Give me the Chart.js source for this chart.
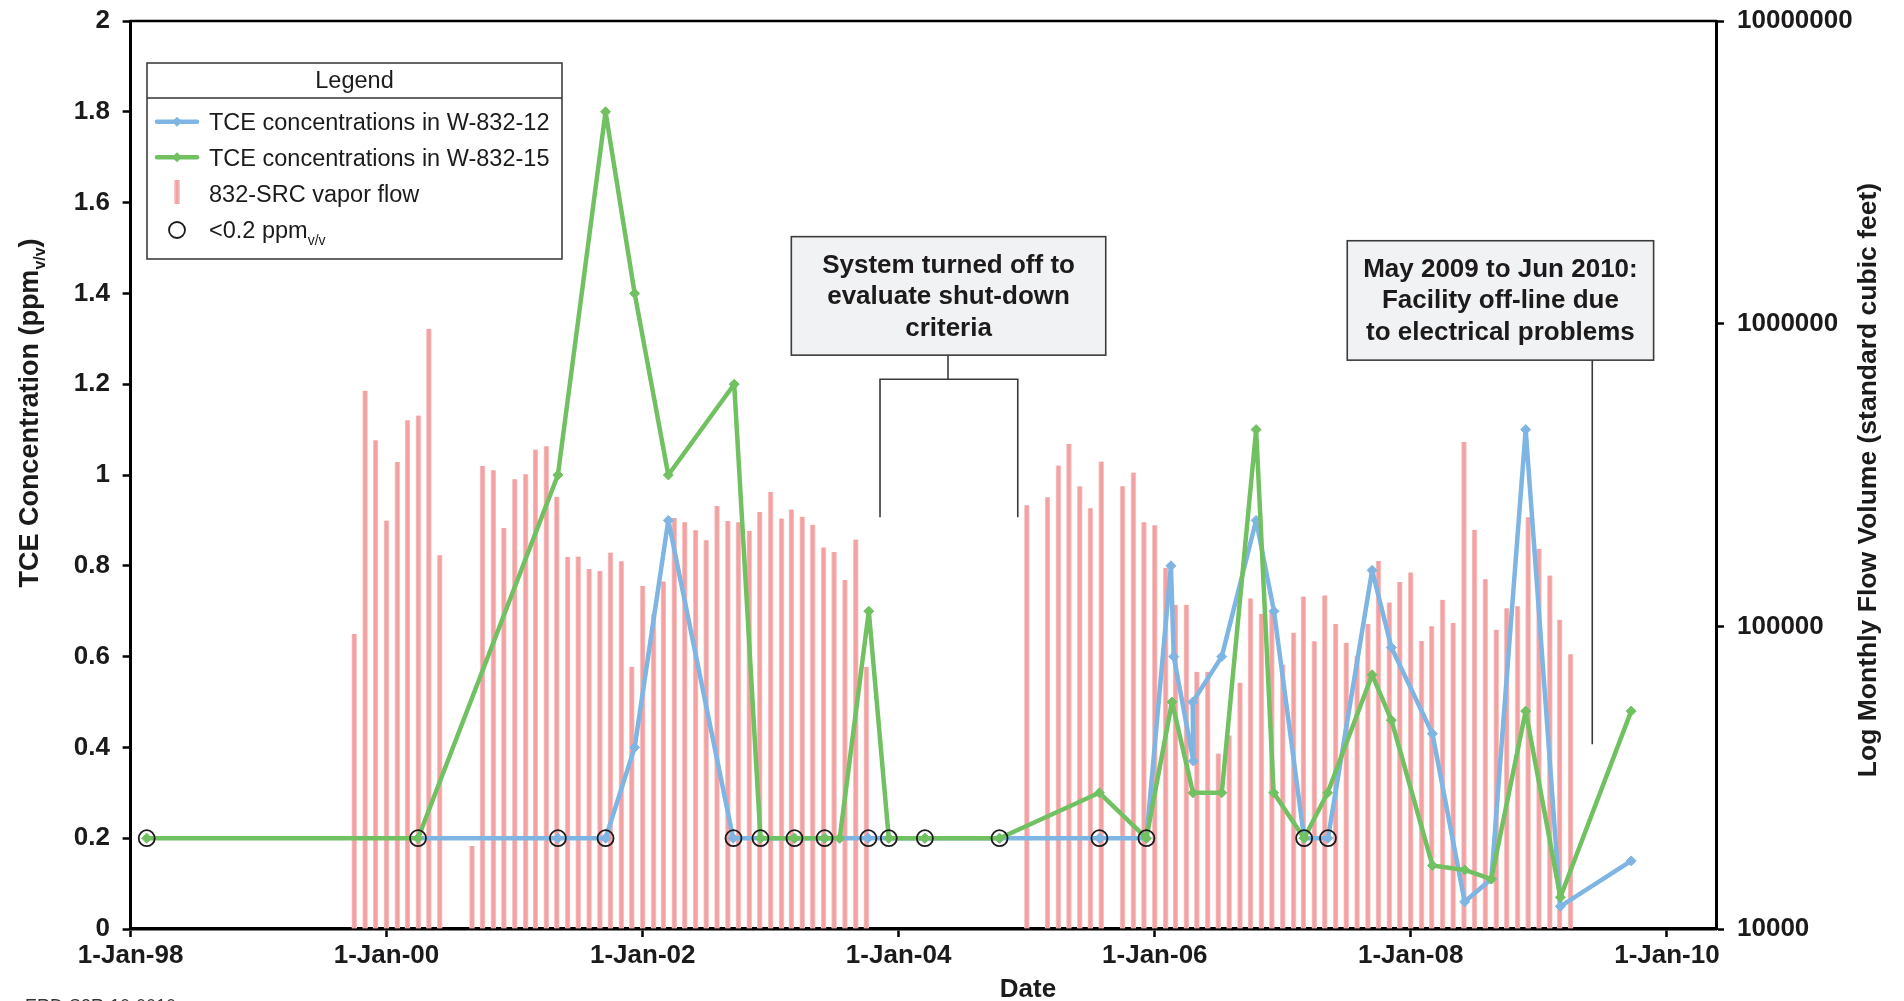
<!DOCTYPE html>
<html>
<head>
<meta charset="utf-8">
<script src="https://cdn.jsdelivr.net/npm/chart.js@4.4.1/dist/chart.umd.min.js"></script>
<style>
html,body{margin:0;padding:0;background:#fff;overflow:hidden}
#wrap{position:relative;width:1904px;height:1001px}
</style>
</head>
<body>
<div id="wrap"><canvas id="c"></canvas></div>
<script>
// ---------- DATA ----------
const tickYears = [1998, 2000, 2002, 2004, 2006, 2008, 2010];
const flowTicks = [10000, 100000, 1000000, 10000000];

const w12Dates = ['2000-03-31','2001-05-04','2001-09-17','2001-12-09','2002-03-15','2002-09-16','2002-12-03','2003-03-10','2003-06-04','2003-07-17','2003-10-06','2003-12-04','2004-03-16','2004-10-15','2005-07-27','2005-12-08','2006-02-16','2006-02-24','2006-04-21','2006-04-19','2006-07-11','2006-10-17','2006-12-07','2007-03-03','2007-05-10','2007-09-13','2007-11-07','2008-03-03','2008-06-03','2008-08-18','2008-11-24','2009-03-03','2009-09-21'];
const w12Values = [0.2,0.2,0.2,0.4,0.9,0.2,0.2,0.2,0.2,0.2,0.2,0.2,0.2,0.2,0.2,0.2,0.8,0.6,0.37,0.5,0.6,0.9,0.7,0.2,0.2,0.79,0.62,0.43,0.06,0.11,1.1,0.05,0.15];

const w15Dates = ['1998-02-16','2000-03-31','2001-05-04','2001-09-17','2001-12-09','2002-03-15','2002-09-19','2002-12-03','2003-03-10','2003-06-04','2003-07-17','2003-10-08','2003-12-04','2004-03-16','2004-10-15','2005-07-27','2005-12-08','2006-02-19','2006-04-20','2006-07-11','2006-10-17','2006-12-06','2007-03-03','2007-05-09','2007-09-13','2007-11-07','2008-03-03','2008-06-03','2008-08-18','2008-11-24','2009-03-03','2009-09-21'];
const w15Values = [0.2,0.2,1.0,1.8,1.4,1.0,1.2,0.2,0.2,0.2,0.2,0.7,0.2,0.2,0.2,0.3,0.2,0.5,0.3,0.3,1.1,0.3,0.2,0.3,0.56,0.46,0.14,0.13,0.11,0.48,0.07,0.48];

// samples below detection (<0.2 ppmv/v), plotted at 0.2
const ndDates = ['1998-02-16','2000-03-31','2001-05-04','2001-09-17','2002-09-17','2002-12-03','2003-03-10','2003-06-04','2003-10-07','2003-12-04','2004-03-16','2004-10-15','2005-07-27','2005-12-08','2007-03-03','2007-05-10'];
const ndValues = [0.2,0.2,0.2,0.2,0.2,0.2,0.2,0.2,0.2,0.2,0.2,0.2,0.2,0.2,0.2,0.2];

// monthly 832-SRC vapor flow (scf), Jan..Dec
const flowYears = [1999,2000,2001,2002,2003,2004,2005,2006,2007,2008,2009];
const flow1999 = [null,null,null,null,null,null,null,null,null,94300,600600,412000];
const flow2000 = [223700,349200,480000,496800,962000,171700,null,null,18800,338500,328100,211400];
const flow2001 = [306400,318000,383600,393300,268100,169400,170000,154700,152400,175300,164200,73500];
const flow2002 = [135800,109900,140700,227900,220600,207700,192500,250000,222900,220600,207000,238800];
const flow2003 = [278300,227200,243400,230300,216400,182300,176000,142200,193600,73550,null,null];
const flow2004 = [null,null,null,null,null,null,null,null,null,null,null,null];
const flow2005 = [251200,null,267000,339800,400900,290300,245400,350500,null,290300,322400,220900];
const flow2006 = [215800,155900,117800,117800,70800,70800,38000,43600,65100,123700,110000,112000];
const flow2007 = [74800,95300,125400,89300,126500,101800,88300,80000,101700,164300,119900,140000];
const flow2008 = [150700,89500,100000,122400,102500,407300,208500,143000,97500,114700,116500,229300];
const flow2009 = [180600,147200,105100,80900,null,null,null,null,null,null,null,null];
const flowByYear = [flow1999,flow2000,flow2001,flow2002,flow2003,flow2004,flow2005,flow2006,flow2007,flow2008,flow2009];

// ---------- helpers ----------
const day = s => { const p = s.split('-').map(Number); return Date.UTC(p[0], p[1]-1, p[2]||1) / 864e5; };
const toPts = (ds, vs) => ds.map((d, i) => ({x: day(d), y: vs[i]}));
const flowPts = [];
flowByYear.forEach((arr, yi) => arr.forEach((v, m) => {
  if (v != null) flowPts.push({x: Date.UTC(flowYears[yi], m, 1) / 864e5, y: v});
}));
const MONTHS = ['Jan','Feb','Mar','Apr','May','Jun','Jul','Aug','Sep','Oct','Nov','Dec'];

const BLUE = '#7EB5E3', GREEN = '#71C162', PINK = '#F2A2A2', PINK_EDGE = '#F8C6C6', INK = '#1c1a1b';
const FONT = '"Liberation Sans", Arial, Helvetica, sans-serif';

function richWidth(ctx, parts) {
  let w = 0;
  parts.forEach(p => { ctx.font = p.f; w += ctx.measureText(p.t).width; });
  return w;
}
function drawRich(ctx, parts, x, y, align) {
  const w = richWidth(ctx, parts);
  let cx = align === 'center' ? x - w / 2 : x;
  ctx.textAlign = 'left';
  parts.forEach(p => {
    ctx.font = p.f;
    ctx.fillText(p.t, cx, y + (p.dy || 0));
    cx += ctx.measureText(p.t).width;
  });
}

const annotations = [
  {lines: ['System turned off to', 'evaluate shut-down', 'criteria'],
   x0: '2003-03-01', x1: '2005-08-14', yTop: 1.525, yBot: 1.264,
   stem: '2004-05-21', bracket: ['2003-11-09', '2004-12-06'], bracketY: 1.211, legY: 0.907},
  {lines: ['May 2009 to Jun 2010:', 'Facility off-line due', 'to electrical problems'],
   x0: '2007-07-04', x1: '2009-11-24', yTop: 1.516, yBot: 1.253,
   stem: '2009-06-02', stemEnd: 0.407}
];

const decor = {
  id: 'decor',
  afterDraw(chart) {
    const {ctx, chartArea: a} = chart;
    const x = chart.scales.x, y = chart.scales.y;
    ctx.save();
    // top frame line
    ctx.strokeStyle = '#000'; ctx.lineWidth = 2.5;
    ctx.beginPath(); ctx.moveTo(a.left - 1, a.top); ctx.lineTo(a.right + 1, a.top); ctx.stroke();

    // annotation boxes
    annotations.forEach(an => {
      const L = x.getPixelForValue(day(an.x0)), R = x.getPixelForValue(day(an.x1));
      const T = y.getPixelForValue(an.yTop), B = y.getPixelForValue(an.yBot);
      ctx.strokeStyle = '#3b3b3b'; ctx.lineWidth = 1.6;
      const sx = x.getPixelForValue(day(an.stem));
      ctx.beginPath();
      if (an.bracket) {
        const by = y.getPixelForValue(an.bracketY), ly = y.getPixelForValue(an.legY);
        const bx0 = x.getPixelForValue(day(an.bracket[0])), bx1 = x.getPixelForValue(day(an.bracket[1]));
        ctx.moveTo(sx, B); ctx.lineTo(sx, by);
        ctx.moveTo(bx0, ly); ctx.lineTo(bx0, by); ctx.lineTo(bx1, by); ctx.lineTo(bx1, ly);
      } else {
        ctx.moveTo(sx, B); ctx.lineTo(sx, y.getPixelForValue(an.stemEnd));
      }
      ctx.stroke();
      ctx.fillStyle = '#F1F2F3';
      ctx.fillRect(L, T, R - L, B - T);
      ctx.strokeRect(L, T, R - L, B - T);
      ctx.fillStyle = INK; ctx.font = 'bold 26px ' + FONT; ctx.textAlign = 'center'; ctx.textBaseline = 'alphabetic';
      an.lines.forEach((t, i) => ctx.fillText(t, (L + R) / 2, T + 36 + i * 31.7));
    });

    // legend box
    const lx = 147, lt = 63, lw = 415, lh = 196;
    ctx.fillStyle = '#fff'; ctx.fillRect(lx, lt, lw, lh);
    ctx.strokeStyle = '#333'; ctx.lineWidth = 1.5;
    ctx.strokeRect(lx, lt, lw, lh);
    ctx.beginPath(); ctx.moveTo(lx, 98); ctx.lineTo(lx + lw, 98); ctx.stroke();
    ctx.fillStyle = INK; ctx.textBaseline = 'alphabetic'; ctx.textAlign = 'center';
    ctx.font = '23.5px ' + FONT;
    ctx.fillText('Legend', lx + lw / 2, 88.3);
    const sx0 = 157, sx1 = 197, smid = 177, tx = 209;
    const rows = [130, 165.7, 202, 237.5];
    [[BLUE, 121.7], [GREEN, 157.3]].forEach(([c, yy]) => {
      ctx.strokeStyle = c; ctx.lineWidth = 4.5; ctx.lineCap = 'round';
      ctx.beginPath(); ctx.moveTo(sx0, yy); ctx.lineTo(sx1, yy); ctx.stroke();
      ctx.fillStyle = c; ctx.beginPath();
      ctx.moveTo(smid - 5, yy); ctx.lineTo(smid, yy - 5); ctx.lineTo(smid + 5, yy); ctx.lineTo(smid, yy + 5); ctx.closePath(); ctx.fill();
    });
    ctx.fillStyle = PINK_EDGE; ctx.fillRect(smid - 3, 180, 6, 24);
    ctx.fillStyle = PINK; ctx.fillRect(smid - 1.5, 180, 3, 24);
    ctx.strokeStyle = INK; ctx.lineWidth = 1.8;
    ctx.beginPath(); ctx.arc(smid, 230, 8, 0, Math.PI * 2); ctx.stroke();
    ctx.fillStyle = INK; ctx.textAlign = 'left'; ctx.font = '23.5px ' + FONT;
    ctx.fillText('TCE concentrations in W-832-12', tx, rows[0]);
    ctx.fillText('TCE concentrations in W-832-15', tx, rows[1]);
    ctx.fillText('832-SRC vapor flow', tx, rows[2]);
    drawRich(ctx, [{t: '<0.2 ppm', f: '23.5px ' + FONT}, {t: 'v/v', f: '14px ' + FONT, dy: 7.5}], tx, rows[3], 'left');

    // axis titles
    ctx.fillStyle = INK; ctx.textBaseline = 'alphabetic';
    ctx.save();
    ctx.translate(38, 413); ctx.rotate(-Math.PI / 2);
    drawRich(ctx, [{t: 'TCE Concentration (ppm', f: 'bold 27px ' + FONT}, {t: 'v/v', f: 'bold 16px ' + FONT, dy: 7}, {t: ')', f: 'bold 27px ' + FONT}], 0, 0, 'center');
    ctx.restore();
    ctx.save();
    ctx.translate(1876, 480); ctx.rotate(-Math.PI / 2);
    ctx.font = 'bold 26.5px ' + FONT; ctx.textAlign = 'center';
    ctx.fillText('Log Monthly Flow Volume (standard cubic feet)', 0, 0);
    ctx.restore();
    ctx.font = 'bold 26px ' + FONT; ctx.textAlign = 'center';
    ctx.fillText('Date', 1028, 997);
    ctx.font = '18px ' + FONT; ctx.textAlign = 'left'; ctx.fillStyle = '#333';
    ctx.fillText('ERD-S3R-10-0010', 25, 1012);
    ctx.restore();
  }
};

const tickFont = {family: FONT, size: 26, weight: 'bold'};
const noPad = s => { s.paddingTop = 0; s.paddingBottom = 0; s.paddingLeft = 0; s.paddingRight = 0; };

new Chart(document.getElementById('c'), {
  type: 'line',
  data: {
    datasets: [
      {type: 'line', label: '<0.2 ppmv/v', data: toPts(ndDates, ndValues), yAxisID: 'y', showLine: false,
       pointStyle: 'circle', pointRadius: 8, pointBorderWidth: 1.8, pointBorderColor: INK,
       pointBackgroundColor: 'rgba(0,0,0,0)', borderColor: INK, order: 0},
      {type: 'line', label: 'TCE concentrations in W-832-15', data: toPts(w15Dates, w15Values), yAxisID: 'y',
       borderColor: GREEN, backgroundColor: GREEN, borderWidth: 4.5, borderJoinStyle: 'round',
       pointStyle: 'rectRot', pointRadius: 5, pointBorderWidth: 1, pointBackgroundColor: GREEN, pointBorderColor: GREEN, order: 1},
      {type: 'line', label: 'TCE concentrations in W-832-12', data: toPts(w12Dates, w12Values), yAxisID: 'y',
       borderColor: BLUE, backgroundColor: BLUE, borderWidth: 4.5, borderJoinStyle: 'round',
       pointStyle: 'rectRot', pointRadius: 5, pointBorderWidth: 1, pointBackgroundColor: BLUE, pointBorderColor: BLUE, order: 2},
      {type: 'bar', label: '832-SRC vapor flow', data: flowPts, yAxisID: 'y2', base: 10000,
       backgroundColor: PINK, borderColor: PINK_EDGE, borderWidth: {left: 1, right: 1, top: 0, bottom: 0},
       barThickness: 5, order: 10}
    ]
  },
  options: {
    responsive: true, maintainAspectRatio: false, animation: false,
    layout: {padding: {top: 21, left: 0, right: 0, bottom: 0}},
    plugins: {legend: {display: false}, tooltip: {enabled: false}},
    scales: {
      x: {
        type: 'linear', position: 'bottom', offset: false,
        min: day('1998-01-01'), max: day('2010-05-21'),
        afterBuildTicks: s => { s.ticks = tickYears.map(yr => ({value: Date.UTC(yr, 0, 1) / 864e5})); },
        afterFit: s => { s.height = 72; noPad(s); },
        grid: {offset: false, drawOnChartArea: false, drawTicks: true, tickLength: 8, tickColor: '#000', tickWidth: 2.5},
        border: {display: true, color: '#000', width: 3.5},
        ticks: {
          font: tickFont, color: INK, padding: 3, maxRotation: 0, autoSkip: false,
          callback: v => { const d = new Date(v * 864e5); return d.getUTCDate() + '-' + MONTHS[d.getUTCMonth()] + '-' + String(d.getUTCFullYear() % 100).padStart(2, '0'); }
        }
      },
      y: {
        type: 'linear', position: 'left', min: 0, max: 2,
        afterFit: s => { s.width = 130.6; noPad(s); },
        grid: {drawOnChartArea: false, drawTicks: true, tickLength: 8, tickColor: '#000', tickWidth: 2.5},
        border: {display: true, color: '#000', width: 3},
        ticks: {stepSize: 0.2, font: tickFont, color: INK, padding: 12.6,
          callback: v => String(Math.round(v * 10) / 10)}
      },
      y2: {
        type: 'logarithmic', position: 'right', min: 10000, max: 10000000,
        afterBuildTicks: s => { s.ticks = flowTicks.map(v => ({value: v})); },
        afterFit: s => { s.width = 188; noPad(s); },
        grid: {drawOnChartArea: false, drawTicks: true, tickLength: 8, tickColor: '#000', tickWidth: 2.5},
        border: {display: true, color: '#000', width: 3},
        ticks: {font: tickFont, color: INK, padding: 13, callback: v => String(Math.round(v))}
      }
    }
  },
  plugins: [decor]
});
</script>
</body>
</html>
